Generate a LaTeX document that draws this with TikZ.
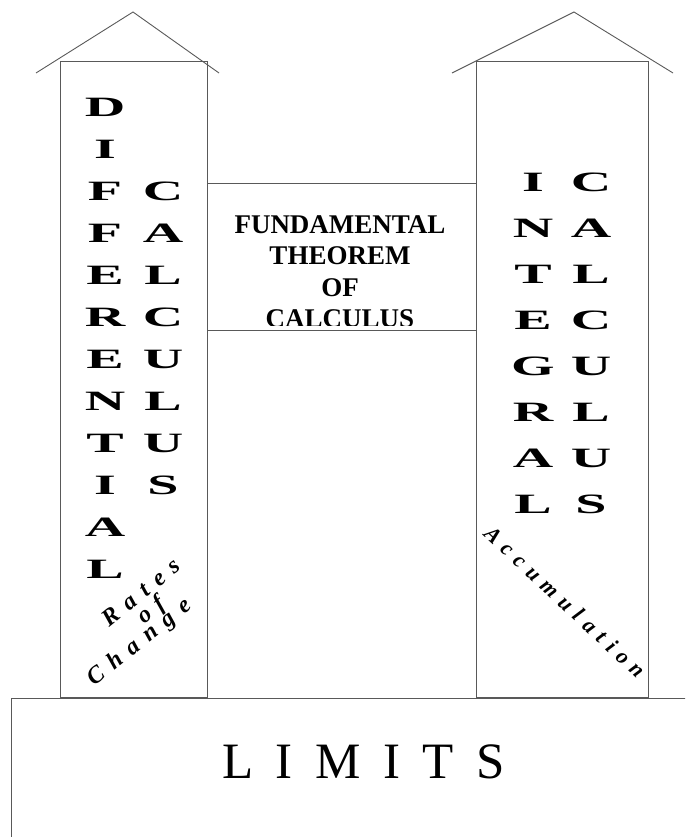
\documentclass[tikz,border=0pt]{standalone}
\usepackage{fontspec}
\setmainfont{Liberation Serif}
\newfontfamily\widefont[FakeStretch=2]{Liberation Serif}
\newfontfamily\limitsfont[LetterSpace=44]{Liberation Serif}
\newfontfamily\wordfont[LetterSpace=40]{Liberation Serif}
\newfontfamily\accumfont[LetterSpace=34]{Liberation Serif}
\usetikzlibrary{positioning}

\begin{document}
\begin{tikzpicture}[x=1pt,y=-1pt,wall/.style={draw=black!65,line width=0.9pt},pillarletter/.style={inner sep=0pt,font=\fontsize{28}{28}\widefont\bfseries\selectfont},slanted/.style={inner sep=0pt,font=\fontsize{24}{24}\wordfont\bfseries\itshape\selectfont},title/.style={inner sep=0pt,align=center,font=\fontsize{27}{31.5}\bfseries\selectfont}]
\useasboundingbox (0,0) rectangle (685,837);
\clip (0,0) rectangle (685,837);
% base and columns
\draw[wall] (11,900) -- (11,698) -- (700,698);
\draw[wall] (60,61) rectangle (207,697);
\draw[wall] (476,61) rectangle (648,697);
\draw[wall] (207,183) -- (476,183);
\draw[wall] (207,330) -- (476,330);
% roofs
\draw[wall] (36,73) -- (133,12) -- (219,73);
\draw[wall] (452,73) -- (574,12) -- (673,73);
% left column
\foreach \ch [count=\i from 0] in {D,I,F,F,E,R,E,N,T,I,A,L}
  \node[pillarletter] (diff\i) at (105,107.5+42*\i) {\ch};
\foreach \ch [count=\i from 2] in {C,A,L,C,U,L,U,S}
  \node[pillarletter] (calcl\i) at (163,107.5+42*\i) {\ch};
\node[slanted,rotate=39] (rates) at (141,592) {Rates};
\node[slanted,rotate=39] (of) at (152,611) {of};
\node[slanted,rotate=39] (change) at (140,643) {Change};
% right column
\foreach \ch [count=\i from 0] in {I,N,T,E,G,R,A,L}
  \node[pillarletter] (integ\i) at (533,182+46*\i) {\ch};
\foreach \ch [count=\i from 0] in {C,A,L,C,U,L,U,S}
  \node[pillarletter] (calcr\i) at (591,182+46*\i) {\ch};
\node[inner sep=0pt,rotate=-43,font=\fontsize{22}{22}\accumfont\bfseries\itshape\selectfont] (accum) at (565,602) {Accumulation};
% middle beam
\begin{scope}
\clip (207,183) rectangle (476,325.5);
\node[title,anchor=north] (ftc) at (340,215) {FUNDAMENTAL\\THEOREM\\OF\\CALCULUS};
\end{scope}
% base label
\node[inner sep=0pt,font=\fontsize{51}{51}\limitsfont\selectfont] (limits) at (363.5,762) {LIMITS};
\end{tikzpicture}
\end{document}
